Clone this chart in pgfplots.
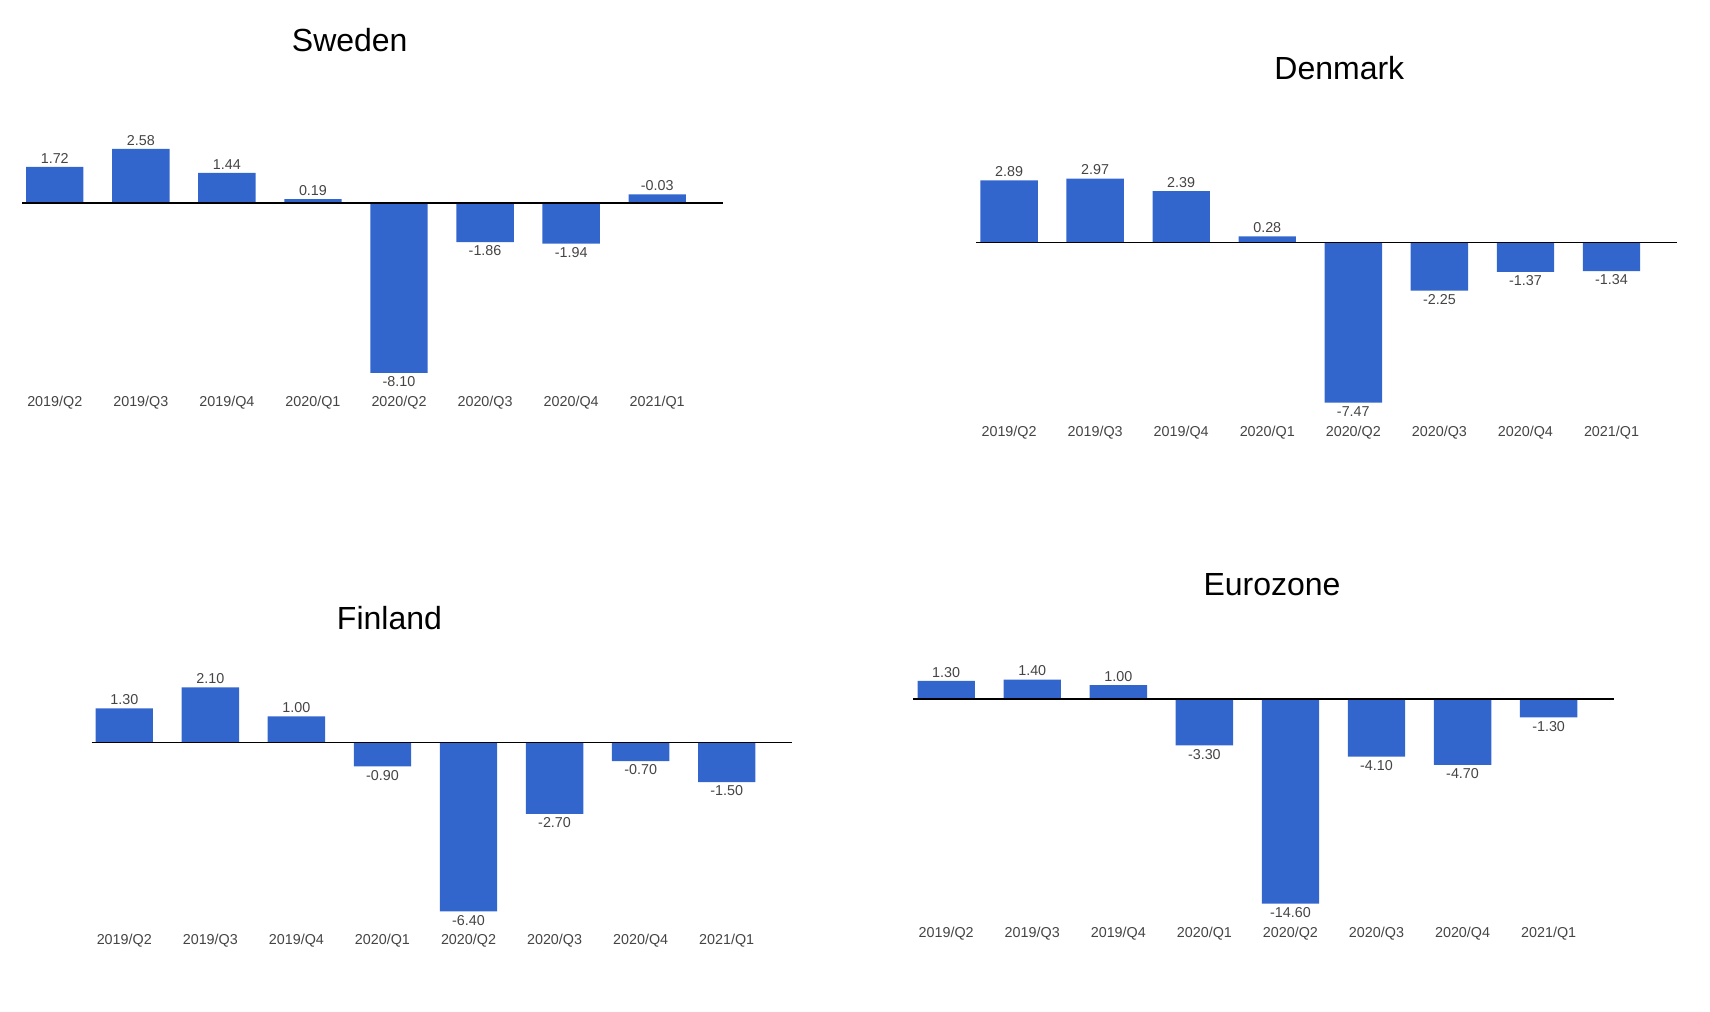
\documentclass[border=0pt]{standalone}
\usepackage{pgfplots}
\pgfplotsset{compat=1.18}
\usepackage{fontspec}
\setmainfont{Liberation Sans}
\definecolor{barblue}{HTML}{3366CC}
\definecolor{lbl}{HTML}{444444}
\pgfplotsset{panel/.style={
  scale only axis, width=317.5pt, height=101.5pt,
  anchor=south west, xmin=-0.38, xmax=7.76,
  axis line style={draw=none}, major tick length=0pt, ytick=\empty,
  xtick={0,...,7},
  xticklabels={2019/Q2,2019/Q3,2019/Q4,2020/Q1,2020/Q2,2020/Q3,2020/Q4,2021/Q1},
  xticklabel style={font=\fontsize{6.5}{8}\selectfont, text=lbl, yshift=-7pt},
  ybar, bar width=26pt, bar shift=0pt, clip=false,
  nodes near coords, point meta=explicit symbolic,
  every node near coord/.append style={font=\fontsize{6.5}{8}\selectfont, text=lbl, inner sep=1.5pt},
},
neg/.style={fill=barblue, draw=none, every node near coord/.append style={anchor=north}},
pos/.style={fill=barblue, draw=none, every node near coord/.append style={anchor=south}},
zl/.style={black, line width=0.7pt, sharp plot, nodes near coords=\empty}}
\begin{document}
\begin{tikzpicture}[x=0.5pt,y=0.5pt]
\path (0,0) rectangle (1550,917);
\node[font=\fontsize{14.5}{17}\selectfont] at (317,881) {Sweden};
\node[font=\fontsize{14.5}{17}\selectfont] at (1214,855) {Denmark};
\node[font=\fontsize{14.5}{17}\selectfont] at (353,357) {Finland};
\node[font=\fontsize{14.5}{17}\selectfont] at (1153,387) {Eurozone};
\begin{axis}[panel, at={(10pt,289.5pt)}, ymin=-8.10, ymax=2.58]
\addplot[pos] coordinates {(0,1.72)[1.72] (1,2.58)[2.58] (2,1.44)[1.44] (3,0.19)[0.19] (7,0.41)[-0.03]};
\addplot[neg] coordinates {(4,-8.10)[-8.10] (5,-1.86)[-1.86] (6,-1.94)[-1.94]};
\addplot[zl] coordinates {(-0.38,0) (7.76,0)};
\end{axis}
\begin{axis}[panel, at={(442.5pt,276pt)}, ymin=-7.47, ymax=2.97]
\addplot[pos] coordinates {(0,2.89)[2.89] (1,2.97)[2.97] (2,2.39)[2.39] (3,0.28)[0.28]};
\addplot[neg] coordinates {(4,-7.47)[-7.47] (5,-2.25)[-2.25] (6,-1.37)[-1.37] (7,-1.34)[-1.34]};
\addplot[zl] coordinates {(-0.38,0) (7.76,0)};
\end{axis}
\begin{axis}[panel, at={(41.5pt,45.5pt)}, ymin=-6.40, ymax=2.10]
\addplot[pos] coordinates {(0,1.30)[1.30] (1,2.10)[2.10] (2,1.00)[1.00]};
\addplot[neg] coordinates {(3,-0.90)[-0.90] (4,-6.40)[-6.40] (5,-2.70)[-2.70] (6,-0.70)[-0.70] (7,-1.50)[-1.50]};
\addplot[zl] coordinates {(-0.38,0) (7.76,0)};
\end{axis}
\begin{axis}[panel, at={(414pt,49pt)}, ymin=-14.60, ymax=1.40]
\addplot[pos] coordinates {(0,1.30)[1.30] (1,1.40)[1.40] (2,1.00)[1.00]};
\addplot[neg] coordinates {(3,-3.30)[-3.30] (4,-14.60)[-14.60] (5,-4.10)[-4.10] (6,-4.70)[-4.70] (7,-1.30)[-1.30]};
\addplot[zl] coordinates {(-0.38,0) (7.76,0)};
\end{axis}
\end{tikzpicture}
\end{document}
